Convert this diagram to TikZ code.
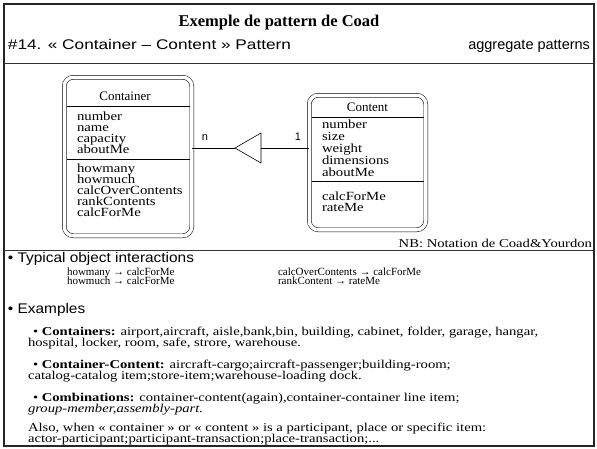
\documentclass[tikz,border=0pt]{standalone}
\usepackage{fontspec}
\setmainfont{Liberation Serif}
\newfontfamily\sansf{Liberation Sans}
\newfontfamily\boxf{Liberation Serif}[FakeStretch=1.18]
\newfontfamily\bodyf{Liberation Serif}[FakeStretch=1.22]
\newfontfamily\subf{Liberation Sans}[FakeStretch=1.23]
\newfontfamily\headf{Liberation Sans}[FakeStretch=1.1]
\usetikzlibrary{calc}
\begin{document}
\begin{tikzpicture}[x=1pt,y=-1pt,
  every node/.style={inner sep=0pt,outer sep=0pt},
  frameline/.style={line width=1.4pt, black!85},
  rule/.style={line width=0.8pt, black!80},
  classbox/.style={draw, rounded corners=9pt, double, double distance=3.5pt, line width=0.5pt},
  conn/.style={line width=0.6pt},
  boxtxt/.style={anchor=base west, font=\boxf\fontsize{12.5}{12.5}\selectfont},
  boxttl/.style={anchor=base, font=\fontsize{13}{13}\selectfont},
  inter/.style={anchor=base west, font=\fontsize{11}{11}\selectfont},
  body/.style={anchor=base west, font=\bodyf\fontsize{12}{12}\selectfont},
  head/.style={anchor=base west, font=\headf\fontsize{14}{14}\selectfont},
  lbl/.style={font=\sansf\fontsize{11}{11}\selectfont},
]
\useasboundingbox (0,0) rectangle (597,448);
\clip (0,0) rectangle (597,448);

% frame
\draw[frameline] (4,4) rectangle (594,446);
\draw[rule] (4,63) -- (594,63);
\draw[rule] (4,250) -- (594,250);

% title band
\node[anchor=base, font=\bfseries\fontsize{16.5}{16.5}\selectfont] (title) at (279,26) {Exemple de pattern de Coad};
\node[anchor=base west, font=\subf\fontsize{14}{14}\selectfont] (sub) at (8,49) {\#14. « Container – Content » Pattern};
\node[anchor=base east, font=\sansf\fontsize{14.5}{14.5}\selectfont] (agg) at (590,49) {aggregate patterns};

% Container class
\node[classbox, minimum width=127.5pt, minimum height=158.5pt] (cont) at (128,156.5) {};
\node[boxttl] (contname) at (125,100) {Container};
\draw[conn] (66.5,106) -- (189.5,106);
\node[boxtxt] (c1) at (77,120) {number};
\node[boxtxt] (c2) at (77,131) {name};
\node[boxtxt] (c3) at (77,142) {capacity};
\node[boxtxt] (c4) at (77,153) {aboutMe};
\draw[conn] (66.5,159) -- (189.5,159);
\node[boxtxt] (s1) at (77,172) {howmany};
\node[boxtxt] (s2) at (77,183) {howmuch};
\node[boxtxt] (s3) at (77,194) {calcOverContents};
\node[boxtxt] (s4) at (77,205) {rankContents};
\node[boxtxt] (s5) at (77,216) {calcForMe};

% Content class
\node[classbox, minimum width=116.5pt, minimum height=134.5pt] (ctt) at (367.5,162.5) {};
\node[boxttl] (cttname) at (367.5,111) {Content};
\draw[conn] (311.5,117) -- (423.5,117);
\node[boxtxt] (t1) at (322,128) {number};
\node[boxtxt] (t2) at (322,140) {size};
\node[boxtxt] (t3) at (322,152) {weight};
\node[boxtxt] (t4) at (322,164) {dimensions};
\node[boxtxt] (t5) at (322,176) {aboutMe};
\draw[conn] (311.5,181) -- (423.5,181);
\node[boxtxt] (u1) at (322,200) {calcForMe};
\node[boxtxt] (u2) at (322,211) {rateMe};

% aggregation
\coordinate (tapex) at (235,148);
\coordinate (tbase) at (261,148);
\draw[conn] (tapex) -- (261,133) -- (261,163) -- cycle;
\draw[conn] (tapex) -- (tapex -| cont.east);
\draw[conn] (tbase) -- (tbase -| ctt.west);
\node[lbl] (nlab) at (205,138) {n};
\node[lbl] (onelab) at (298,137) {1};

\node[anchor=base east, font=\bodyf\fontsize{12}{12}\selectfont] (nb) at (592,247) {NB: Notation de Coad\&Yourdon};

% lower part
\node[head] (typ) at (8,262.5) {• Typical object interactions};
\node[inter] (i1) at (67,275) {howmany → calcForMe};
\node[inter] (i2) at (67,284.5) {howmuch → calcForMe};
\node[inter] (i3) at (278,275) {calcOverContents → calcForMe};
\node[inter] (i4) at (278,284.5) {rankContent → rateMe};

\node[head] (ex) at (8,313) {• Examples};
\node[body] (e1) at (33,335) {• \textbf{Containers:} airport,aircraft, aisle,bank,bin, building, cabinet, folder, garage, hangar,};
\node[body] (e1b) at (28,346) {hospital, locker, room, safe, strore, warehouse.};
\node[body] (e2) at (33,368) {• \textbf{Container-Content:} aircraft-cargo;aircraft-passenger;building-room;};
\node[body] (e2b) at (28,379) {catalog-catalog item;store-item;warehouse-loading dock.};
\node[body] (e3) at (33,401) {• \textbf{Combinations:} container-content(again),container-container line item;};
\node[body] (e3b) at (28,412) {\textit{group-member,assembly-part.}};
\node[body] (e4) at (28,431) {Also, when « container » or « content » is a participant, place or specific item:};
\node[body] (e4b) at (28,442) {actor-participant;participant-transaction;place-transaction;...};
\end{tikzpicture}
\end{document}
